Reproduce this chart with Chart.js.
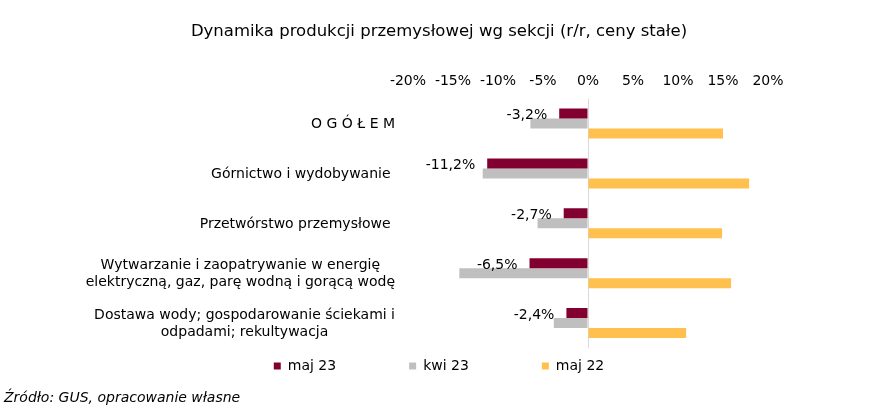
<!DOCTYPE html>
<html>
<head>
<meta charset="utf-8">
<script src="https://cdn.jsdelivr.net/npm/chart.js@4"></script>
<style>
  html, body { margin: 0; padding: 0; background: #fff; }
  #wrap { width: 874px; height: 411px; }
</style>
</head>
<body>
<div id="wrap"><canvas id="chart"></canvas></div>
<script>
// sections (multi-line labels are arrays of lines)
const sections = [
  ["O G Ó Ł E M"],
  ["Górnictwo i wydobywanie "],
  ["Przetwórstwo przemysłowe "],
  ["Wytwarzanie i zaopatrywanie w energię", "elektryczną, gaz, parę wodną i gorącą wodę"],
  ["Dostawa wody; gospodarowanie ściekami i", "odpadami; rekultywacja"]
];
const seriesNames = ["maj 23", "kwi 23", "maj 22"];
const maj23 = [-3.2, -11.2, -2.7, -6.5, -2.4];
const kwi23 = [-6.4, -11.7, -5.6, -14.3, -3.8];
const maj22 = [15.0, 17.9, 14.9, 15.9, 10.9];
const xTicks = [-20, -15, -10, -5, 0, 5, 10, 15, 20];

Chart.defaults.font.family = '"DejaVu Sans", Verdana, sans-serif';
Chart.defaults.font.size = 14;
Chart.defaults.color = '#000';

function pct(v) {
  return v.toFixed(1).replace('.', ',') + '%';
}

// category labels: block right-aligned, lines centred inside the block
const sectionLabels = {
  id: 'sectionLabels',
  afterDraw(chart) {
    const ctx = chart.ctx;
    const y = chart.scales.y;
    ctx.save();
    ctx.font = '14px "DejaVu Sans"';
    ctx.fillStyle = '#000';
    ctx.textAlign = 'center';
    ctx.textBaseline = 'middle';
    const right = y.right - 13;
    chart.data.labels.forEach((lines, i) => {
      const w = Math.max(...lines.map(l => ctx.measureText(l).width));
      const cx = right - w / 2;
      const cy = y.getPixelForTick(i);
      lines.forEach((l, j) => {
        ctx.fillText(l, cx, cy + (j - (lines.length - 1) / 2) * 17 + 1);
      });
    });
    ctx.restore();
  }
};

// value labels for the first series only
const valueLabels = {
  id: 'valueLabels',
  afterDatasetsDraw(chart) {
    const ctx = chart.ctx;
    const meta = chart.getDatasetMeta(0);
    ctx.save();
    ctx.font = '14px "DejaVu Sans"';
    ctx.fillStyle = '#000';
    ctx.textAlign = 'right';
    ctx.textBaseline = 'middle';
    meta.data.forEach((bar, i) => {
      ctx.fillText(pct(maj23[i]), bar.x - 12, bar.y + 2);
    });
    ctx.restore();
  }
};

// move legend row down to where it sits in the original
const legendPlace = {
  id: 'legendPlace',
  afterLayout(chart) {
    const lg = chart.legend;
    lg.top = 366 - 7 - lg.options.labels.padding;
    lg.bottom = 380;
    lg.height = lg.bottom - lg.top;
  }
};

new Chart(document.getElementById('chart'), {
  type: 'bar',
  data: {
    labels: sections,
    datasets: [
      { label: seriesNames[0], data: maj23, backgroundColor: '#82002f', borderWidth: 0 },
      { label: seriesNames[1], data: kwi23, backgroundColor: '#bfbfbf', borderWidth: 0 },
      { label: seriesNames[2], data: maj22, backgroundColor: '#ffc04d', borderWidth: 0 }
    ]
  },
  options: {
    indexAxis: 'y',
    responsive: true,
    maintainAspectRatio: false,
    animation: false,
    devicePixelRatio: 1,
    layout: { padding: { left: 4, right: 0, top: 0, bottom: 0 } },
    datasets: {
      bar: { barPercentage: 1.0, categoryPercentage: 0.6 }
    },
    scales: {
      x: {
        position: 'top',
        min: -20,
        max: 20,
        afterBuildTicks: s => { s.ticks = xTicks.map(v => ({ value: v })); },
        ticks: { padding: 9, callback: v => v + '%', font: { size: 14 } },
        grid: {
          drawTicks: false,
          color: c => (c.tick && c.tick.value === 0) ? '#d9d9d9' : 'rgba(0,0,0,0)'
        },
        border: { display: false }
      },
      y: {
        position: 'left',
        ticks: { display: false },
        grid: { display: false },
        border: { display: false },
        afterFit: s => { s.width = 404; }
      },
      yRight: {
        type: 'linear',
        position: 'right',
        ticks: { display: false },
        grid: { display: false },
        border: { display: false },
        afterFit: s => { s.width = 106; }
      }
    },
    plugins: {
      title: {
        display: true,
        text: 'Dynamika produkcji przemysłowej wg sekcji (r/r, ceny stałe)',
        font: { size: 16.5, weight: 'normal' },
        color: '#000',
        padding: { top: 22, bottom: 22 }
      },
      subtitle: {
        display: true,
        position: 'bottom',
        align: 'start',
        text: 'Źródło: GUS, opracowanie własne',
        font: { size: 14, style: 'italic', weight: 'normal' },
        color: '#000',
        padding: { top: 21.6, bottom: 4.6 }
      },
      legend: {
        position: 'bottom',
        align: 'center',
        maxHeight: 20,
        labels: { boxWidth: 7, boxHeight: 7, padding: 73, font: { size: 14 }, color: '#000' }
      },
      tooltip: { enabled: false }
    }
  },
  plugins: [sectionLabels, valueLabels, legendPlace]
});
</script>
</body>
</html>
